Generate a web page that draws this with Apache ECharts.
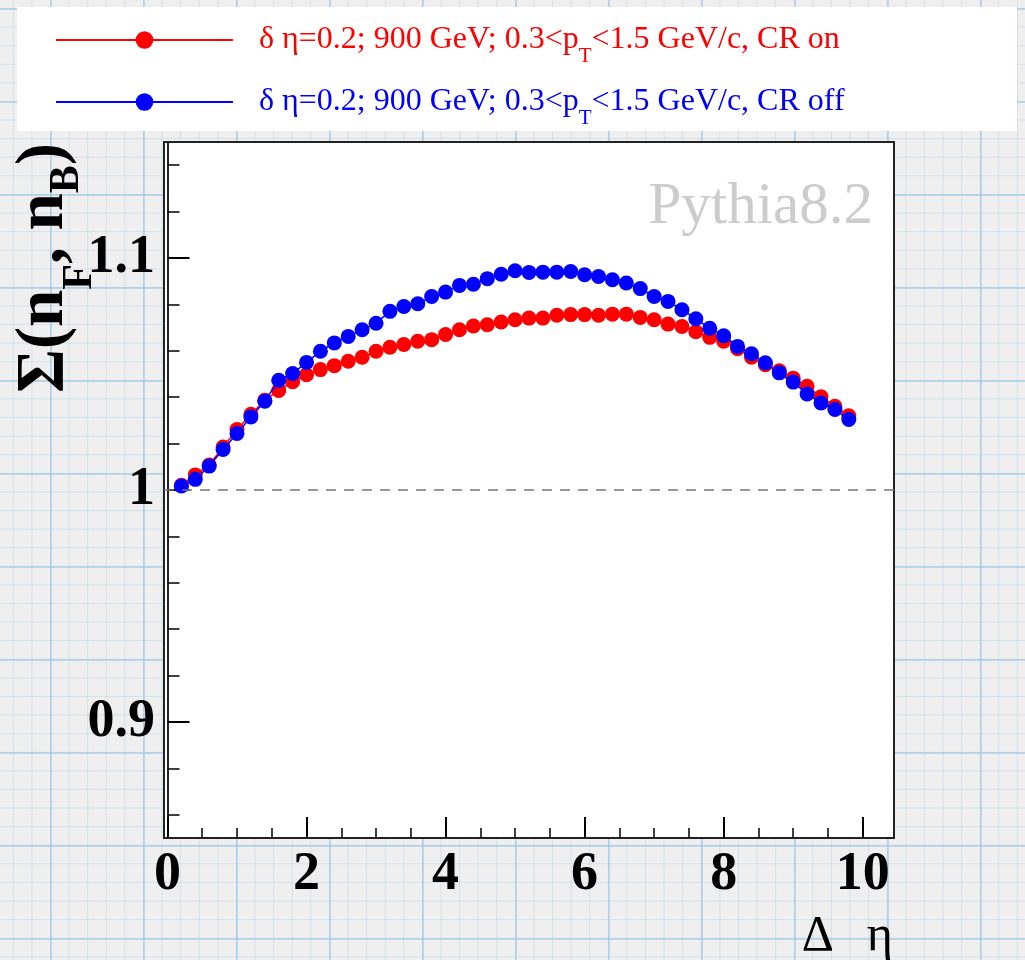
<!DOCTYPE html>
<html>
<head>
<meta charset="utf-8">
<script src="https://cdn.jsdelivr.net/npm/echarts@6/dist/echarts.min.js"></script>
<style>
html,body{margin:0;padding:0;}
#wrap{width:1025px;height:960px;background-color:#efefef;
background-image:
 linear-gradient(to right, rgba(150,195,225,0.55) 2px, transparent 2px),
 linear-gradient(to bottom, rgba(150,195,225,0.55) 2px, transparent 2px),
 linear-gradient(to right, rgba(165,205,230,0.4) 1px, transparent 1px),
 linear-gradient(to bottom, rgba(165,205,230,0.4) 1px, transparent 1px);
background-size:93px 93px,93px 93px,18.6px 18.6px,18.6px 18.6px;
background-position:50px 0,0 8px,50px 0,0 8px;}
#chart{width:1025px;height:960px;}
</style>
</head>
<body>
<div id="wrap"><div id="chart"></div></div>
<script>
// Δη values (bin centres)
const deltaEta = [0.2,0.4,0.6,0.8,1.0,1.2,1.4,1.6,1.8,2.0,2.2,2.4,2.6,2.8,3.0,3.2,3.4,3.6,3.8,4.0,
  4.2,4.4,4.6,4.8,5.0,5.2,5.4,5.6,5.8,6.0,6.2,6.4,6.6,6.8,7.0,7.2,7.4,7.6,7.8,8.0,
  8.2,8.4,8.6,8.8,9.0,9.2,9.4,9.6,9.8];
// Σ(nF,nB), CR on (red)
const sigmaCROn = [1.0020,1.0065,1.0108,1.0185,1.0261,1.0326,1.0387,1.0429,1.0467,1.0497,
  1.0519,1.0536,1.0555,1.0572,1.0598,1.0615,1.0627,1.0641,1.0648,1.0670,
  1.0691,1.0707,1.0712,1.0724,1.0734,1.0741,1.0741,1.0753,1.0756,1.0756,
  1.0753,1.0758,1.0758,1.0744,1.0734,1.0715,1.0705,1.0682,1.0658,1.0641,
  1.0609,1.0572,1.0540,1.0514,1.0482,1.0447,1.0402,1.0361,1.0320];
// Σ(nF,nB), CR off (blue)
const sigmaCROff = [1.0017,1.0046,1.0103,1.0175,1.0244,1.0315,1.0383,1.0473,1.0502,1.0550,
  1.0598,1.0634,1.0662,1.0691,1.0719,1.0770,1.0791,1.0803,1.0834,1.0853,
  1.0882,1.0887,1.0911,1.0930,1.0945,1.0938,1.0939,1.0939,1.0942,1.0928,
  1.0920,1.0906,1.0892,1.0868,1.0834,1.0813,1.0777,1.0738,1.0697,1.0665,
  1.0619,1.0587,1.0548,1.0505,1.0465,1.0414,1.0375,1.0347,1.0304];
const xMajorTicks = [0,2,4,6,8,10];
const xMinorTicks = [0.5,1,1.5,2.5,3,3.5,4.5,5,5.5,6.5,7,7.5,8.5,9,9.5,10.5];
const yMajorTicks = [0.9,1.0,1.1];
const yMinorTicks = [0.86,0.88,0.92,0.94,0.96,0.98,1.02,1.04,1.06,1.08,1.12,1.14];
const refLine = 1.0;
const legendOn = ['δ η=0.2; 900 GeV; 0.3<p', 'T', '<1.5 GeV/c, CR on'];
const legendOff = ['δ η=0.2; 900 GeV; 0.3<p', 'T', '<1.5 GeV/c, CR off'];

const zip = (xs, ys) => xs.map((x, i) => [x, ys[i]]);
const serif = 'Liberation Serif';
const RED = '#ff0000', BLUE = '#0000ff';

function legendCfg(name, color, parts, top) {
  return {
    data: [{name: name}],
    left: 55, top: top, padding: 0,
    orient: 'vertical',
    itemWidth: 177, itemHeight: 22,
    selectedMode: false,
    formatter: () => parts[0] + '{s|' + parts[1] + '}' + parts[2],
    textStyle: {
      fontFamily: serif, fontSize: 32, color: color, padding: [0, 0, 0, 21],
      rich: { s: { fontFamily: serif, fontSize: 21, color: color, padding: [32, 0, 0, 0] } }
    }
  };
}

const chart = echarts.init(document.getElementById('chart'), null, {renderer: 'canvas'});
const option = {
  animation: false,
  backgroundColor: 'transparent',
  graphic: [
    { type: 'rect', z: 0, shape: {x: 17, y: 7, width: 1000, height: 124}, style: {fill: '#ffffff'} },
    { type: 'text', z: 10, x: 873, y: 207,
      style: { text: 'Pythia8.2', fill: '#cccccc', font: '59px "Liberation Serif"',
        align: 'right', verticalAlign: 'middle', textAlign: 'right', textVerticalAlign: 'middle' } },
    { type: 'text', z: 10, x: 45, y: 268, rotation: Math.PI / 2,
      style: { text: 'Σ(n{f|F}, n{b|B})', fill: '#000', font: 'bold 67px "Liberation Serif"',
        align: 'center', verticalAlign: 'middle', textAlign: 'center', textVerticalAlign: 'middle',
        rich: {
          f: { fontFamily: serif, fontWeight: 'bold', fontSize: 42, fill: '#000', padding: [70, 0, 0, 0] },
          b: { fontFamily: serif, fontWeight: 'bold', fontSize: 42, fill: '#000', padding: [44, 0, 0, 0] }
        } } },
    { type: 'text', z: 10, x: 893, y: 937,
      style: { text: 'Δ  {e|η}', fill: '#000', font: '50px "Liberation Serif"',
        align: 'right', verticalAlign: 'middle', textAlign: 'right', textVerticalAlign: 'middle',
        rich: { e: { fontFamily: serif, fontSize: 50, fill: '#000', padding: [0, 0, 0, 8] } } } }
  ],
  legend: [
    legendCfg('CR on', RED, legendOn, 24),
    legendCfg('CR off', BLUE, legendOff, 86)
  ],
  grid: { left: 164, top: 142, width: 730, height: 696, show: true, backgroundColor: '#ffffff',
    borderColor: '#222', borderWidth: 2, containLabel: false },
  xAxis: [
    { type: 'value', min: -0.05, max: 10.45, position: 'bottom',
      axisLine: {show: true, lineStyle: {color: '#222', width: 2}},
      axisTick: {show: true, inside: true, length: 21, customValues: xMajorTicks, lineStyle: {color: '#000', width: 2}},
      axisLabel: {show: true, customValues: xMajorTicks, margin: 10, fontFamily: serif, fontWeight: 'bold', fontSize: 54, color: '#000'},
      splitLine: {show: false} },
    { type: 'value', min: -0.05, max: 10.45, position: 'bottom', offset: 0,
      axisLine: {show: false},
      axisTick: {show: true, inside: true, length: 10, customValues: xMinorTicks, lineStyle: {color: '#000', width: 1.5}},
      axisLabel: {show: false}, splitLine: {show: false} }
  ],
  yAxis: [
    { type: 'value', min: 0.85, max: 1.15, position: 'left',
      axisLine: {show: true, lineStyle: {color: '#222', width: 2}},
      axisTick: {show: true, inside: true, length: 22, customValues: yMajorTicks, lineStyle: {color: '#000', width: 2}},
      axisLabel: {show: true, customValues: yMajorTicks, margin: 9, fontFamily: serif, fontWeight: 'bold', fontSize: 54, color: '#000',
        formatter: v => (Math.abs(v - 1) < 1e-9 ? '1' : String(+v.toFixed(2)))},
      splitLine: {show: false} },
    { type: 'value', min: 0.85, max: 1.15, position: 'left', offset: 0,
      axisLine: {show: false},
      axisTick: {show: true, inside: true, length: 12, customValues: yMinorTicks, lineStyle: {color: '#000', width: 1.5}},
      axisLabel: {show: false}, splitLine: {show: false} }
  ],
  series: [
    { name: 'CR on', type: 'line', xAxisIndex: 0, yAxisIndex: 0, data: zip(deltaEta, sigmaCROn),
      symbol: 'circle', symbolSize: 15, showSymbol: true, itemStyle: {color: RED},
      lineStyle: {color: RED, width: 1.5}, z: 3,
      markLine: { silent: true, symbol: ['none', 'none'], label: {show: false},
        lineStyle: {color: '#777', type: [10, 8], width: 1.5}, data: [{yAxis: refLine}] } },
    { name: 'CR off', type: 'line', xAxisIndex: 0, yAxisIndex: 0, data: zip(deltaEta, sigmaCROff),
      symbol: 'circle', symbolSize: 15, showSymbol: true, itemStyle: {color: BLUE},
      lineStyle: {color: BLUE, width: 1.5}, z: 4 }
  ]
};
chart.setOption(option);
</script>
</body>
</html>
